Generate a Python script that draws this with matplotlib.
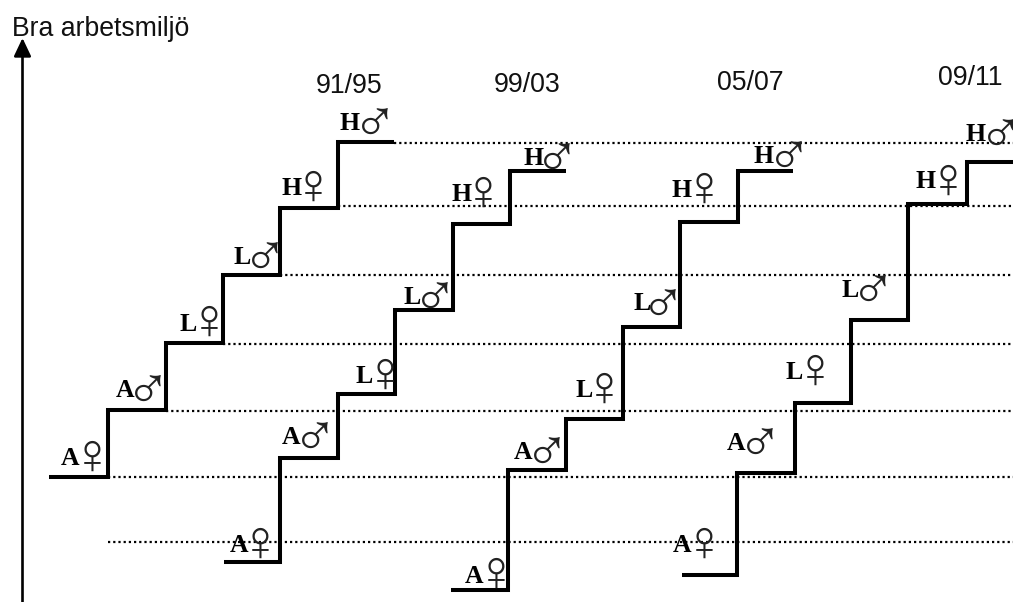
import matplotlib
matplotlib.use("Agg")
import matplotlib.pyplot as plt

W, H = 1013, 602

# Stair edges and levels per period (y grows downward)
periods = ["91/95", "99/03", "05/07", "09/11"]
edges_9195 = [49, 108, 166, 223, 280, 338, 394]
levels_9195 = [477, 410, 343, 275, 208, 142]
edges_9903 = [224, 280, 338, 395, 453, 510, 566]
levels_9903 = [562, 458, 394, 310, 224, 171]
edges_0507 = [451, 508, 566, 623, 680, 738, 793]
levels_0507 = [590, 470, 419, 327, 222, 171]
edges_0911 = [682, 737, 795, 851, 908, 967, 1013]
levels_0911 = [575, 473, 403, 320, 204, 162]
all_edges = [edges_9195, edges_9903, edges_0507, edges_0911]
all_levels = [levels_9195, levels_9903, levels_0507, levels_0911]

period_x = [316, 494, 717, 938]
period_y = [93, 92, 90, 85]

# Dotted reference lines
dot_y = [143, 206, 275, 344, 411, 477, 542]
dot_x0 = [394, 338, 280, 223, 166, 108, 108]

letters = ["A", "A", "L", "L", "H", "H"]
symbols = ["\u2640", "\u2642", "\u2640", "\u2642", "\u2640", "\u2642"]
symbol_size = {"\u2640": 41, "\u2642": 44}
symbol_dx = {"\u2640": 0, "\u2642": 2}
symbol_dy = {"\u2640": 1, "\u2642": 9}

letter_x = [
    [70, 125, 188, 242, 291, 350],
    [239, 291, 364, 412, 461, 533],
    [474, 523, 584, 642, 681, 764],
    [682, 736, 794, 850, 925, 976],
]
letter_y = [
    [465, 397, 331, 264, 195, 130],
    [552, 444, 383, 304, 201, 165],
    [583, 459, 397, 310, 197, 163],
    [552, 450, 379, 297, 188, 141],
]
symbol_x = [
    [92, 146, 209, 263, 313, 373],
    [260, 313, 385, 433, 483, 555],
    [496, 545, 604, 661, 704, 787],
    [704, 758, 815, 871, 948, 999],
]
symbol_y = [
    [472, 401, 337, 268, 202, 134],
    [559, 448, 390, 308, 208, 169],
    [589, 463, 404, 315, 204, 167],
    [559, 454, 386, 301, 196, 145],
]

fig = plt.figure(figsize=(W / 100, H / 100), dpi=100)
ax = fig.add_axes([0, 0, 1, 1])
ax.set_xlim(0, W)
ax.set_ylim(H, 0)
ax.axis("off")

for y, x0 in zip(dot_y, dot_x0):
    ax.plot([x0, W], [y, y], color="black", lw=1.6,
            linestyle=(0, (1, 1.34)), zorder=1)

for edges, levels in zip(all_edges, all_levels):
    ax.step(edges, levels + [levels[-1]], where="post", color="black", lw=2.9,
            solid_joinstyle="miter", solid_capstyle="butt", zorder=2)

ax.annotate("", xy=(22.5, 38), xytext=(22.5, 604),
            arrowprops=dict(arrowstyle="-|>,head_length=0.55,head_width=0.26",
                            color="black", lw=1.9, shrinkA=0, shrinkB=0,
                            mutation_scale=20))

sans = "Liberation Sans"
ax.text(12, 36, "Bra arbetsmiljö", family=sans, fontsize=19.2, color="#111111",
        ha="left", va="baseline")
for name, x, y in zip(periods, period_x, period_y):
    ax.text(x, y, name, family=sans, fontsize=19.2, color="#111111",
            ha="left", va="baseline")

for p in range(len(periods)):
    for i in range(6):
        s = symbols[i]
        ax.text(letter_x[p][i], letter_y[p][i], letters[i],
                family="Liberation Serif", fontweight="bold", fontsize=18.5,
                color="black", ha="center", va="baseline", zorder=3)
        ax.text(symbol_x[p][i] + symbol_dx[s], symbol_y[p][i] + symbol_dy[s], s,
                family="Liberation Serif", fontsize=symbol_size[s],
                color="#222222", ha="center", va="baseline", zorder=3)

fig.savefig("out.png", dpi=100)
